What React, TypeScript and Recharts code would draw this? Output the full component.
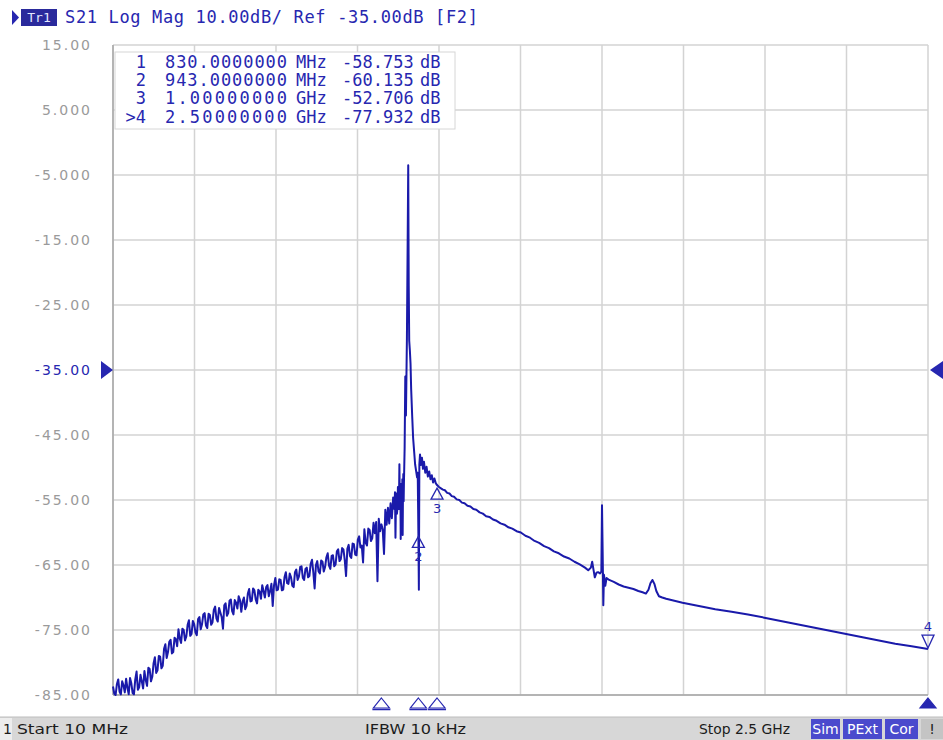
import React from "react";
import {
  LineChart,
  Line,
  XAxis,
  YAxis,
  CartesianGrid,
  ReferenceDot,
  ReferenceLine,
} from "recharts";

// S21 trace, [frequency MHz, dB]
const lowBand: [number, number][] = [
  [10, -83.7], [14, -84.8], [18, -85.0], [22, -83.3], [26, -82.6], [30, -84.5],
  [34, -84.9], [38, -82.9], [42, -83.5], [46, -84.6], [50, -82.5], [54, -83.9],
  [58, -84.9], [62, -82.4], [66, -83.2], [70, -84.7], [74, -84.9], [78, -82.6],
  [82, -81.4], [86, -84.2], [90, -83.8], [94, -81.9], [98, -82.9], [102, -84.0],
  [106, -81.3], [110, -82.7], [114, -83.6], [118, -80.8], [122, -81.0], [126, -82.9],
  [130, -82.2], [134, -80.1], [138, -79.2], [142, -81.6], [146, -81.2], [150, -79.0],
  [154, -79.1], [158, -80.9], [162, -80.5], [166, -77.9], [170, -77.2], [174, -79.3],
  [178, -78.4], [182, -76.8], [186, -76.5], [190, -78.6], [194, -78.4], [198, -76.2],
  [202, -76.4], [206, -77.5], [210, -74.9], [214, -76.3], [218, -77.0], [222, -74.8],
  [226, -75.0], [230, -76.6], [234, -76.0], [238, -74.2], [242, -73.5], [246, -75.9],
  [250, -75.6], [254, -73.6], [258, -74.1], [262, -75.4], [266, -75.8], [270, -73.3],
  [274, -73.0], [278, -74.9], [282, -74.1], [286, -72.6], [290, -72.4], [294, -74.3],
  [298, -74.7], [302, -72.5], [306, -72.7], [310, -74.2], [314, -73.8], [318, -71.9],
  [322, -71.4], [326, -73.2], [330, -73.7], [334, -71.6], [338, -72.3], [342, -73.0],
  [346, -74.8], [350, -71.2], [354, -70.9], [358, -72.8], [362, -72.4], [366, -70.5],
  [370, -70.3], [374, -72.1], [378, -72.6], [382, -70.4], [386, -70.8], [390, -71.7],
  [394, -69.8], [398, -70.4], [402, -72.2], [406, -70.6], [410, -70.0], [414, -71.8],
  [418, -71.3], [422, -69.4], [426, -68.7], [430, -70.6], [434, -70.5], [438, -68.6],
  [442, -68.9], [446, -70.3], [450, -70.9], [454, -68.8], [458, -69.1], [462, -70.2],
  [466, -68.1], [470, -69.0], [474, -70.0], [478, -68.4], [482, -68.1], [486, -69.8],
  [490, -69.0], [494, -67.9], [498, -71.3], [502, -68.1], [506, -67.0], [510, -68.9],
  [514, -68.8], [518, -67.2], [522, -67.3], [526, -68.9], [530, -68.8], [534, -66.9],
  [538, -66.1], [542, -67.8], [546, -67.9], [550, -66.3], [554, -66.9], [558, -68.2],
  [562, -68.4], [566, -66.1], [570, -65.7], [574, -67.3], [578, -66.8], [582, -65.3],
  [586, -65.2], [590, -67.0], [594, -67.3], [598, -65.6], [602, -65.4], [606, -66.9],
  [610, -66.7], [614, -64.8], [618, -64.2], [622, -66.1], [626, -68.6], [630, -65.0],
  [634, -64.4], [638, -66.0], [642, -66.3], [646, -64.3], [650, -64.5], [654, -66.0],
  [658, -65.3], [662, -63.8], [666, -63.2], [670, -65.1], [674, -65.6], [678, -63.6],
  [682, -63.5], [686, -65.2], [690, -64.9], [694, -62.9], [698, -62.6], [702, -64.4],
  [706, -64.1], [710, -62.4], [714, -62.6], [718, -64.2], [722, -66.7], [726, -62.5],
  [730, -61.9], [734, -63.6], [738, -63.9], [742, -61.7], [746, -61.8], [750, -63.4],
  [754, -63.5], [758, -61.1], [762, -60.6], [766, -62.3], [770, -62.0], [774, -64.6],
  [778, -59.5], [782, -61.6], [786, -62.0], [790, -59.4], [794, -59.6], [798, -61.3],
  [802, -60.9], [806, -58.5], [810, -60.1], [814, -58.4], [818, -67.5], [822, -57.9],
  [826, -59.8], [830, -58.75], [834, -59.5], [838, -63.3], [842, -56.5], [846, -58.8],
  [850, -56.2], [854, -58.6], [858, -55.5], [862, -57.8], [866, -54.6],
];

const carrier: [number, number][] = [
  [870, -56.4], [871.5, -53.8], [873, -60.8], [874.5, -55.2], [876, -54.0], [877.5, -57.1],
  [879, -56.3], [880.5, -53.0], [882, -53.2], [883.5, -56.4], [885, -49.5], [886, -54.2],
  [887, -55.0], [888, -52.6], [889, -61.0], [890, -54.1], [891, -52.5], [892, -56.0],
  [893, -54.8], [894, -51.8], [895, -60.4], [896, -53.5], [897, -51.0], [898, -55.2],
  [899, -52.0], [901, -47.0], [903, -36.0], [905, -42.0], [908, -30.0], [910, -17.0],
  [912, -3.5], [913.5, -22.0], [915, -30.5], [917, -32.0], [919, -34.0], [921, -38.0],
  [924, -42.0], [927, -45.5], [930, -47.5], [933, -49.5], [936, -50.5], [939, -51.5],
  [941, -50.8], [943, -60.135], [944.5, -68.8], [946, -49.5], [948, -48.0], [951, -49.6],
  [954, -48.5], [957, -50.2], [960, -49.1], [964, -50.8], [968, -49.9], [972, -51.4],
  [976, -50.6], [980, -51.8], [984, -51.2], [988, -52.3], [992, -51.7], [996, -52.4],
];

const highBand: [number, number][] = [
  [1000, -52.706], [1006, -53.0], [1012, -53.2], [1018, -53.4], [1024, -53.5], [1031, -53.9],
  [1038, -54.0], [1045, -54.4], [1052, -54.5], [1060, -54.9], [1068, -55.0], [1076, -55.4],
  [1084, -55.5], [1093, -55.9], [1102, -56.0], [1111, -56.4], [1120, -56.5], [1130, -56.9],
  [1140, -57.1], [1150, -57.5], [1160, -57.6], [1171, -58.0], [1182, -58.2], [1194, -58.6],
  [1206, -58.8], [1218, -59.2], [1230, -59.4], [1243, -59.8], [1256, -60.0], [1270, -60.5],
  [1284, -60.8], [1298, -61.3], [1312, -61.6], [1327, -62.1], [1342, -62.4], [1357, -62.9],
  [1372, -63.2], [1388, -63.7], [1404, -64.0], [1420, -64.5], [1436, -64.9], [1452, -65.4],
  [1462, -65.8], [1470, -65.4], [1474, -64.5], [1478, -65.7], [1482, -66.9], [1487, -66.2],
  [1492, -66.1], [1498, -66.3], [1502, -66.0], [1504, -55.8], [1506, -63.0], [1508, -71.2],
  [1510, -66.5], [1514, -68.2], [1518, -67.0], [1526, -67.3], [1540, -67.6], [1555, -68.0],
  [1570, -68.3], [1585, -68.5], [1600, -68.7], [1615, -69.0], [1628, -69.2], [1638, -69.4],
  [1646, -68.8], [1652, -67.8], [1658, -67.3], [1664, -67.9], [1670, -69.0], [1678, -69.8],
  [1688, -70.0], [1700, -70.2], [1750, -70.8], [1800, -71.3], [1850, -71.8], [1900, -72.2],
  [1950, -72.6], [2000, -73.1], [2050, -73.6], [2100, -74.1], [2150, -74.6], [2200, -75.1],
  [2250, -75.6], [2300, -76.1], [2350, -76.6], [2400, -77.1], [2450, -77.5], [2500, -77.932],
];

const freqTicks = [10, 259, 508, 757, 1006, 1255, 1504, 1753, 2002, 2251, 2500];
const dbTicks = [15, 5, -5, -15, -25, -35, -45, -55, -65, -75, -85];
const dbTickLabels = [
  "15.00", "5.000", "-5.000", "-15.00", "-25.00", "-35.00",
  "-45.00", "-55.00", "-65.00", "-75.00", "-85.00",
];
const refLevel = -35;

const markerNums = [1, 2, 3, 4];
const markerFreqs = [830, 943, 1000, 2500];
const markerValues = [-58.753, -60.135, -52.706, -77.932];
const markerFreqText = ["830.0000000", "943.0000000", "1.00000000", "2.50000000"];
const markerUnits = ["MHz", "MHz", "GHz", "GHz"];
const activeMarker = 4;

const trace = [...lowBand, ...carrier, ...highBand].map(([f, db]) => ({ f, db }));

const BLUE = "#2727b0";
const TRACE = "#1a1aaa";
const GRID = "#d3d3d3";
const MONO = "'DejaVu Sans Mono', 'Liberation Mono', monospace";
const SANS = "'DejaVu Sans', Verdana, sans-serif";

const renderDbTick = (props: any) => {
  const { x, y, payload } = props;
  const i = dbTicks.indexOf(payload.value);
  return (
    <text
      x={x}
      y={y}
      dy={5}
      textAnchor="end"
      fill={payload.value === refLevel ? BLUE : "#9a9a9a"}
      fontSize={14}
      fontFamily={SANS}
      letterSpacing={2}
    >
      {dbTickLabels[i]}
    </text>
  );
};

// marker symbol drawn on the trace
const traceMarker = (n: number) => (p: any) => {
  const { cx, cy } = p;
  if (n === activeMarker) {
    return (
      <g>
        <path
          d={`M${cx},${cy - 1} L${cx + 6},${cy - 14} L${cx - 6},${cy - 14} Z`}
          fill="none"
          stroke={BLUE}
          strokeWidth={1.3}
        />
        <text x={cx} y={cy - 18} textAnchor="middle" fill={BLUE} fontSize={13} fontFamily={SANS}>
          {n}
        </text>
      </g>
    );
  }
  return (
    <g>
      <path
        d={`M${cx},${cy + 3} L${cx + 6},${cy + 14} L${cx - 6},${cy + 14} Z`}
        fill="none"
        stroke={BLUE}
        strokeWidth={1.3}
      />
      <text x={cx} y={cy + 28} textAnchor="middle" fill={BLUE} fontSize={13} fontFamily={SANS}>
        {n}
      </text>
    </g>
  );
};

// marker position indicators under the graticule
const axisMarker = (n: number) => (p: any) => {
  const { cx, cy } = p;
  const filled = n === activeMarker;
  return (
    <g>
      <path
        d={`M${cx},${cy + 3} L${cx + 8},${cy + 13} L${cx - 8},${cy + 13} Z`}
        fill={filled ? BLUE : "#fff"}
        stroke={BLUE}
        strokeWidth={1.2}
      />
      {!filled && (
        <line x1={cx - 9} x2={cx + 9} y1={cy + 14.5} y2={cy + 14.5} stroke={BLUE} strokeWidth={1.5} />
      )}
    </g>
  );
};

const refLeft = (p: any) => (
  <path d={`M${p.cx - 12},${p.cy - 9} L${p.cx},${p.cy} L${p.cx - 12},${p.cy + 9} Z`} fill={BLUE} />
);
const refRight = (p: any) => (
  <path d={`M${p.cx + 2},${p.cy} L${p.cx + 15},${p.cy - 9} L${p.cx + 15},${p.cy + 9} Z`} fill={BLUE} />
);

export default function App() {
  return (
    <div style={{ position: "absolute", left: 0, top: 0, width: 943, height: 740, background: "#fff" }}>
      <LineChart
        width={943}
        height={740}
        data={trace}
        margin={{ top: 45, right: 15, bottom: 45, left: 13 }}
      >
        <CartesianGrid stroke={GRID} strokeWidth={1.5} />
        <XAxis dataKey="f" type="number" domain={[10, 2500]} ticks={freqTicks} hide />
        <YAxis
          type="number"
          domain={[-85, 15]}
          ticks={dbTicks}
          interval={0}
          width={100}
          axisLine={false}
          tickLine={false}
          tickSize={0}
          tickMargin={21}
          tick={renderDbTick}
        />
        <ReferenceLine x={10} stroke="#a6a6a6" strokeWidth={1.5} />
        <ReferenceLine y={-85} stroke="#a6a6a6" strokeWidth={1.5} />
        <Line
          type="linear"
          dataKey="db"
          stroke={TRACE}
          strokeWidth={2}
          strokeLinejoin="round"
          dot={false}
          isAnimationActive={false}
        />
        {markerNums
          .filter((n) => n !== 1)
          .map((n) => (
            <ReferenceDot
              key={`t${n}`}
              x={markerFreqs[n - 1]}
              y={markerValues[n - 1]}
              ifOverflow="visible"
              shape={traceMarker(n)}
            />
          ))}
        {markerNums.map((n) => (
          <ReferenceDot
            key={`a${n}`}
            x={markerFreqs[n - 1]}
            y={-85}
            ifOverflow="visible"
            shape={axisMarker(n)}
          />
        ))}
        <ReferenceDot x={10} y={refLevel} ifOverflow="visible" shape={refLeft} />
        <ReferenceDot x={2500} y={refLevel} ifOverflow="visible" shape={refRight} />
      </LineChart>

      <svg
        width={943}
        height={740}
        style={{ position: "absolute", left: 0, top: 0, pointerEvents: "none" }}
      >
        {/* trace header */}
        <path d="M12,10 L19,17.5 L12,25 Z" fill={BLUE} />
        <rect x={21} y={9} width={36} height={17} fill="#2a2a9c" />
        <text x={39} y={22} textAnchor="middle" fill="#e4e8ff" fontSize={13} fontFamily={MONO}>
          Tr1
        </text>
        <text x={65} y={23} fill={BLUE} fontSize={17} fontFamily={MONO} textLength={413} lengthAdjust="spacing">
          S21 Log Mag 10.00dB/ Ref -35.00dB [F2]
        </text>

        {/* marker table */}
        <rect x={115} y={52} width={340} height={77} fill="#fff" stroke="#d6d6d6" />
        {markerNums.map((n, i) => {
          const y = 68 + i * 18.2;
          return (
            <g key={n} fill={BLUE} fontSize={17} fontFamily={MONO}>
              <text x={146} y={y} textAnchor="end">
                {n === activeMarker ? `>${n}` : `${n}`}
              </text>
              <text x={165} y={y} textLength={122} lengthAdjust="spacing">
                {markerFreqText[i]}
              </text>
              <text x={296} y={y}>{markerUnits[i]}</text>
              <text x={342} y={y}>{markerValues[i].toFixed(3)}</text>
              <text x={420} y={y}>dB</text>
            </g>
          );
        })}

        {/* status bar */}
        <rect x={0} y={717} width={943} height={23} fill="#d7d7d7" />
        <line x1={0} x2={943} y1={717} y2={717} stroke="#bdbdbd" />
        <rect x={0} y={718} width={12} height={22} fill="#ededed" />
        <g fill="#1c1c1c" fontSize={14} fontFamily={SANS}>
          <text x={3} y={734}>1</text>
          <text x={17} y={734} textLength={111} lengthAdjust="spacingAndGlyphs">Start 10 MHz</text>
          <text x={365} y={734} textLength={101} lengthAdjust="spacingAndGlyphs">IFBW 10 kHz</text>
          <text x={699} y={734} textLength={91} lengthAdjust="spacingAndGlyphs">Stop 2.5 GHz</text>
        </g>
        <rect x={811} y={719} width={29} height={20} fill="#4a4acd" />
        <rect x={843} y={719} width={39} height={20} fill="#4a4acd" />
        <rect x={885} y={719} width={33} height={20} fill="#4a4acd" />
        <rect x={921} y={719} width={22} height={20} fill="#c4c4c4" />
        <g fill="#fff" fontSize={14} fontFamily={SANS} textAnchor="middle">
          <text x={825.5} y={734}>Sim</text>
          <text x={862.5} y={734}>PExt</text>
          <text x={901.5} y={734}>Cor</text>
        </g>
        <text x={932} y={734} textAnchor="middle" fill="#1c1c1c" fontSize={14} fontFamily={SANS}>
          !
        </text>
      </svg>
    </div>
  );
}
